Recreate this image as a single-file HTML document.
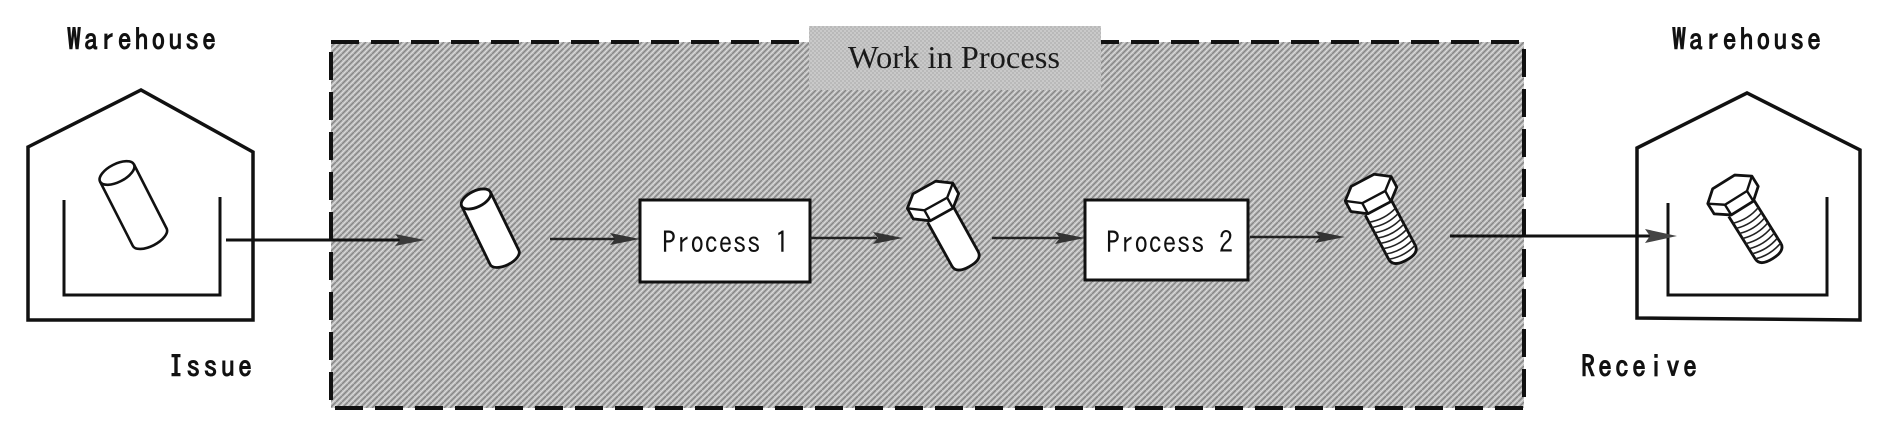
<!DOCTYPE html>
<html>
<head>
<meta charset="utf-8">
<style>
  html,body{margin:0;padding:0;background:#fff;}
  body{width:1882px;height:448px;overflow:hidden;}
  svg{display:block;}
  .mono{font-family:"IPAGothic","Liberation Mono","Noto Sans CJK JP",monospace;font-size:28px;fill:#111;}
  .lbl{font-weight:bold;}
  .serif{font-family:"Liberation Serif","Noto Serif CJK SC",serif;font-size:32px;fill:#1a1a1a;}
</style>
</head>
<body>
<svg width="1882" height="448" viewBox="0 0 1882 448" xmlns="http://www.w3.org/2000/svg">
  <defs>
    <pattern id="tex" width="6" height="6" patternUnits="userSpaceOnUse">
      <rect width="6" height="6" fill="#b5b5b5"/>
      <path d="M-1,7 L7,-1" stroke="#858585" stroke-width="1.2"/>
      <path d="M-1,4 L4,-1 M2,7 L7,2" stroke="#dcdcdc" stroke-width="1"/>
    </pattern>
    <pattern id="chk" width="4" height="4" patternUnits="userSpaceOnUse">
      <rect width="4" height="4" fill="#c9c9c9"/>
      <rect width="2" height="2" fill="#b9b9b9"/>
      <rect x="2" y="2" width="2" height="2" fill="#b9b9b9"/>
    </pattern>
    <g id="bolt">
      <path d="M-15,16 L-15,66 Q-15,75 0,75 Q15,75 15,66 L15,16" fill="#fff" stroke="#111" stroke-width="2.8" stroke-linejoin="round"/>
      <polygon points="-26,-6 -14,-16 12,-16 26,-6 26,6 14,16 -12,16 -26,6" fill="#fff" stroke="#111" stroke-width="2.8" stroke-linejoin="round"/>
      <polyline points="-26,-6 -12,4 14,4 26,-6" fill="none" stroke="#111" stroke-width="2.4"/>
      <path d="M-12,4 L-12,16 M14,4 L14,16" stroke="#111" stroke-width="2.4"/>
    </g>
    <g id="threads">
      <path d="M-15,24 Q0,29 15,24 M-15,30 Q0,35 15,30 M-15,36 Q0,41 15,36 M-15,42 Q0,47 15,42 M-15,48 Q0,53 15,48 M-15,54 Q0,59 15,54 M-15,60 Q0,65 15,60 M-15,66 Q0,71 15,66" fill="none" stroke="#222" stroke-width="1.6"/>
    </g>
  </defs>

  <!-- Work in process area -->
  <rect x="331" y="42" width="1193" height="366" fill="url(#tex)" stroke="#111" stroke-width="4" stroke-dasharray="28 12"/>
  <rect x="809" y="26" width="292" height="64" fill="url(#chk)"/>
  <text class="serif" x="848" y="68" textLength="212" lengthAdjust="spacingAndGlyphs">Work in Process</text>

  <!-- Left warehouse -->
  <polygon points="28,147 141,90 253,152 253,320 28,320" fill="#fff" stroke="#111" stroke-width="3.5" stroke-linejoin="miter"/>
  <polyline points="64,200 64,295 220,295 220,197" fill="none" stroke="#111" stroke-width="3"/>
  <g transform="translate(117,173) rotate(-27)">
    <path d="M-19,0 L-19,72 A19,9 0 0 0 19,72 L19,0" fill="#fff" stroke="#111" stroke-width="2.6"/>
    <ellipse cx="0" cy="0" rx="19" ry="9" fill="#fff" stroke="#111" stroke-width="2.6"/>
  </g>
  <text class="mono lbl" transform="translate(0,50) scale(1,1.08) translate(0,-50)" x="67" y="50" textLength="149" lengthAdjust="spacing">Warehouse</text>
  <text class="mono lbl" transform="translate(0,377) scale(1,1.08) translate(0,-377)" x="169" y="377" textLength="83" lengthAdjust="spacing">Issue</text>

  <!-- Issue arrow -->
  <line x1="226" y1="240" x2="400" y2="240" stroke="#111" stroke-width="3"/>
  <polygon points="395,234 425,240 395,246 400,240" fill="#3a3a3a"/>

  <!-- WIP cylinder -->
  <g transform="translate(476,199) rotate(-26)">
    <path d="M-16,0 L-16,65 A16,8 0 0 0 16,65 L16,0" fill="#fff" stroke="#111" stroke-width="2.8"/>
    <ellipse cx="0" cy="0" rx="16" ry="8" fill="#fff" stroke="#111" stroke-width="2.8"/>
  </g>

  <!-- arrow 1 -->
  <line x1="550" y1="239" x2="615" y2="239" stroke="#222" stroke-width="2.5"/>
  <polygon points="610,233 640,239 610,245 615,239" fill="#333"/>

  <!-- Process 1 -->
  <rect x="640" y="200" width="170" height="82" fill="#fff" stroke="#111" stroke-width="3"/>
  <text class="mono" transform="translate(0,253) scale(1,1.08) translate(0,-253)" x="662" y="253" textLength="127" lengthAdjust="spacing">Process 1</text>

  <!-- arrow 2 -->
  <line x1="810" y1="238" x2="877" y2="238" stroke="#222" stroke-width="2.5"/>
  <polygon points="873,232 903,238 873,244 878,238" fill="#333"/>

  <!-- Bolt 1 (unthreaded) -->
  <g transform="translate(933,201) rotate(-29)"><use href="#bolt"/></g>

  <!-- arrow 3 -->
  <line x1="992" y1="238" x2="1060" y2="238" stroke="#222" stroke-width="2.5"/>
  <polygon points="1055,232 1085,238 1055,244 1060,238" fill="#333"/>

  <!-- Process 2 -->
  <rect x="1085" y="200" width="163" height="80" fill="#fff" stroke="#111" stroke-width="3"/>
  <text class="mono" transform="translate(0,253) scale(1,1.08) translate(0,-253)" x="1106" y="253" textLength="127" lengthAdjust="spacing">Process 2</text>

  <!-- arrow 4 -->
  <line x1="1250" y1="237" x2="1320" y2="237" stroke="#222" stroke-width="2.5"/>
  <polygon points="1315,231 1345,237 1315,243 1320,237" fill="#333"/>

  <!-- Bolt 2 (threaded) -->
  <g transform="translate(1371,194) rotate(-28)"><use href="#bolt"/><use href="#threads"/></g>

  <!-- Receive arrow -->
  <line x1="1450" y1="236" x2="1650" y2="236" stroke="#111" stroke-width="3"/>

  <!-- Right warehouse -->
  <polygon points="1637,148 1747,93 1860,150 1860,320 1637,318" fill="none" stroke="#111" stroke-width="3.5" stroke-linejoin="miter"/>
  <polyline points="1668,203 1668,295 1827,295 1827,197" fill="none" stroke="#111" stroke-width="3"/>
  <polygon points="1645,229 1677,236 1645,243 1650,236" fill="#444"/>
  <g transform="translate(1733,195) rotate(-32)"><use href="#bolt"/><use href="#threads"/></g>
  <text class="mono lbl" transform="translate(0,50) scale(1,1.08) translate(0,-50)" x="1672" y="50" textLength="149" lengthAdjust="spacing">Warehouse</text>
  <text class="mono lbl" transform="translate(0,377) scale(1,1.08) translate(0,-377)" x="1581" y="377" textLength="116" lengthAdjust="spacing">Receive</text>
</svg>
</body>
</html>
